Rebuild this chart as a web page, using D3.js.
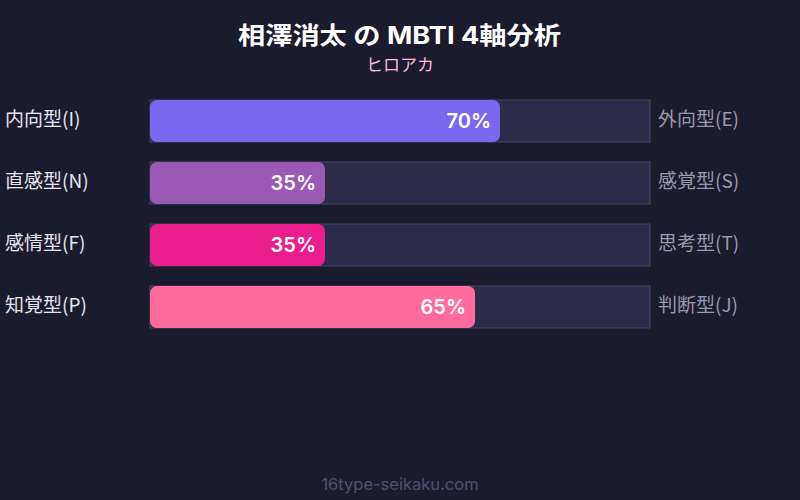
<!DOCTYPE html>
<html>
<head>
<meta charset="utf-8">
<script src="https://cdn.jsdelivr.net/npm/d3@7"></script>
<style>
  body { margin: 0; background: #1b1b2e; }
  text { font-family: "Noto Sans CJK JP", sans-serif; }
</style>
</head>
<body>
<script>
// axis labels and values
var leftLabels = ["内向型(I)", "直感型(N)", "感情型(F)", "知覚型(P)"];
var rightLabels = ["外向型(E)", "感覚型(S)", "思考型(T)", "判断型(J)"];
var values = [70, 35, 35, 65];
var colors = ["#7b68ee", "#9b59b6", "#e91e8c", "#ff6b9d"];

var width = 800,
    height = 500;

var svg = d3.select("body")
    .append("svg")
    .attr("width", width)
    .attr("height", height);

svg.append("rect")
    .attr("width", width)
    .attr("height", height)
    .attr("fill", "#1b1b2e");

//title (stretched a bit to the reference width)
svg.append("text")
    .attr("x", 238)
    .attr("y", 44)
    .attr("fill", "#ffffff")
    .attr("font-size", 24)
    .attr("font-weight", "bold")
    .style("font-family", "Inter, 'Noto Sans CJK JP', sans-serif")
    .attr("textLength", 323)
    .attr("lengthAdjust", "spacingAndGlyphs")
    .text("相澤消太 の MBTI 4軸分析");

svg.append("text")
    .attr("x", width / 2)
    .attr("y", 71)
    .attr("text-anchor", "middle")
    .attr("fill", "#ffb6d9")
    .attr("font-size", 17)
    .text("ヒロアカ");

//scales
var x = d3.scaleLinear()
    .domain([0, 100])
    .range([150, 650]);

var y = d3.scaleBand()
    .domain(d3.range(values.length))
    .range([100, 328])
    .paddingInner(0.3226)
    .paddingOuter(0);

var rows = svg.selectAll(".row")
    .data(values)
    .enter()
    .append("g")
    .attr("class", "row");

//background track
rows.append("rect")
    .attr("x", x(0))
    .attr("y", function(d, i){ return y(i); })
    .attr("width", x(100) - x(0))
    .attr("height", y.bandwidth())
    .attr("fill", "#2d2b4a")
    .attr("stroke", "#46456a")
    .attr("stroke-width", 1);

//fill bar
rows.append("rect")
    .attr("x", x(0))
    .attr("y", function(d, i){ return y(i); })
    .attr("width", function(d){ return x(d) - x(0); })
    .attr("height", y.bandwidth())
    .attr("rx", 7)
    .attr("fill", function(d, i){ return colors[i]; });

//value label
rows.append("text")
    .attr("x", function(d){ return x(d) - 9; })
    .attr("y", function(d, i){ return y(i) + y.bandwidth() / 2; })
    .attr("dy", "0.35em")
    .attr("text-anchor", "end")
    .attr("fill", "#ffffff")
    .attr("font-size", 20)
    .attr("font-weight", 600)
    .style("font-family", "Inter, sans-serif")
    .text(function(d){ return d + "%"; });

//left labels
rows.append("text")
    .attr("x", 5)
    .attr("y", function(d, i){ return y(i) + y.bandwidth() / 2; })
    .attr("dy", "0.28em")
    .attr("fill", "#e6e6f0")
    .attr("font-size", 19)
    .text(function(d, i){ return leftLabels[i]; });

//right labels
rows.append("text")
    .attr("x", 658)
    .attr("y", function(d, i){ return y(i) + y.bandwidth() / 2; })
    .attr("dy", "0.28em")
    .attr("fill", "#9a9aae")
    .attr("font-size", 19)
    .text(function(d, i){ return rightLabels[i]; });

//footer
svg.append("text")
    .attr("x", width / 2)
    .attr("y", 490)
    .attr("text-anchor", "middle")
    .attr("fill", "#4f4f72")
    .attr("font-size", 16.5)
    .style("font-family", "Inter, sans-serif")
    .text("16type-seikaku.com");
</script>
</body>
</html>
